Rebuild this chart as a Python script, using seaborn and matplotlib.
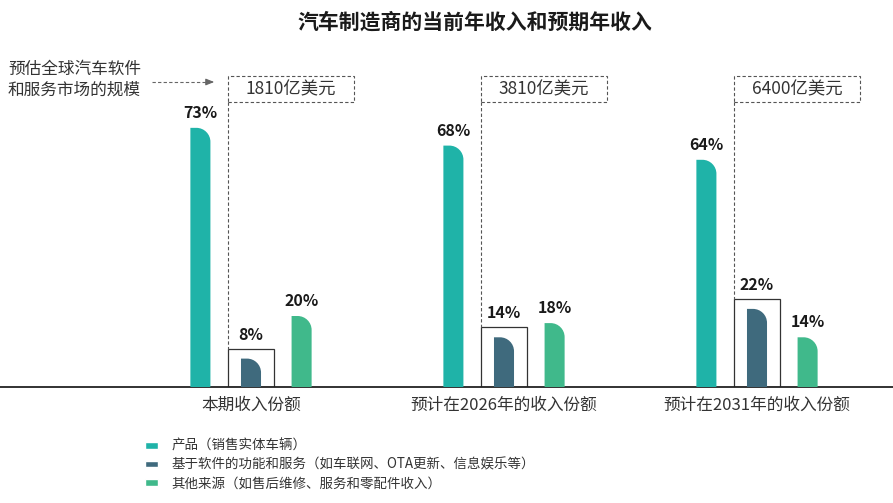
import numpy as np
import pandas as pd
import matplotlib
matplotlib.use("Agg")
import matplotlib.pyplot as plt
from matplotlib.path import Path
from matplotlib.patches import PathPatch, Rectangle
from matplotlib.lines import Line2D
import seaborn as sns

# ---------------- data ----------------
title = "汽车制造商的当前年收入和预期年收入"
categories = ["本期收入份额", "预计在2026年的收入份额", "预计在2031年的收入份额"]
series = ["产品（销售实体车辆）",
          "基于软件的功能和服务（如车联网、OTA更新、信息娱乐等）",
          "其他来源（如售后维修、服务和零配件收入）"]
product_share = [73, 68, 64]
software_share = [8, 14, 22]
other_share = [20, 18, 14]
market_size = ["1810亿美元", "3810亿美元", "6400亿美元"]
side_note = "预估全球汽车软件\n和服务市场的规模"
colors = ["#1fb3a8", "#3f6a7d", "#40b98b"]

rows = []
for vals, s in zip([product_share, software_share, other_share], series):
    for c, v in zip(categories, vals):
        rows.append({"cat": c, "series": s, "val": v})
df = pd.DataFrame(rows)

# ---------------- figure ----------------
sns.set_style("white")
plt.rcParams["font.family"] = ["Noto Sans CJK SC", "DejaVu Sans"]

W, H = 893, 503
fig = plt.figure(figsize=(W / 100, H / 100), dpi=100)
base_px = 387            # baseline from top
ax_h_px = 284
ax = fig.add_axes([0, (H - base_px) / H, 1, ax_h_px / H])

sns.barplot(data=df, x="cat", y="val", hue="series", palette=colors,
            width=0.6, gap=0.604, saturation=1, ax=ax, legend=True)

x_unit_px = 253.0
x0_px = 251.0
ax.set_xlim(-x0_px / x_unit_px, (W - x0_px) / x_unit_px)
ax.set_ylim(0, 80)
y_unit_px = ax_h_px / 80.0

def px2x(px):
    return px / x_unit_px

def px2y(px):
    return px / y_unit_px

def fig_y_to_data(ypx_top):
    return (base_px - ypx_top) / y_unit_px

rx, ry = px2x(14), px2y(14)
k = 0.5523

bars_info = []
for si, cont in enumerate(ax.containers):
    for ci, p in enumerate(cont):
        x0 = p.get_x(); w = p.get_width(); h = p.get_height()
        x1 = x0 + w
        verts = [(x0, 0), (x0, h), (x1 - rx, h),
                 (x1 - rx + k * rx, h), (x1, h - ry + k * ry), (x1, h - ry),
                 (x1, 0), (x0, 0)]
        codes = [Path.MOVETO, Path.LINETO, Path.LINETO,
                 Path.CURVE4, Path.CURVE4, Path.CURVE4,
                 Path.LINETO, Path.CLOSEPOLY]
        pp = PathPatch(Path(verts, codes), facecolor=p.get_facecolor(),
                       edgecolor="none", zorder=3)
        ax.add_patch(pp)
        p.set_visible(False)
        bars_info.append((si, ci, x0, x1, h))
        off = 24 if si == 1 else 15
        ax.text((x0 + x1) / 2, h + px2y(off), f"{int(h)}%", ha="center",
                va="center", fontsize=11.5, fontweight="bold", color="#1a1a1a")

# boxes around software bars and dashed market-size boxes
for si, ci, x0, x1, h in bars_info:
    if si != 1:
        continue
    bl = x0 - px2x(13)
    br = x1 + px2x(13)
    btop = h + px2y(10)
    ax.add_patch(Rectangle((bl, 0), br - bl, btop, fill=False,
                           edgecolor="#333333", linewidth=0.9, zorder=2))
    dtop = fig_y_to_data(76)
    dbot = fig_y_to_data(102)
    dr = bl + px2x(126)
    ax.add_patch(Rectangle((bl, dbot), dr - bl, dtop - dbot, fill=False,
                           edgecolor="#555555", linewidth=0.8,
                           linestyle=(0, (3, 2)), clip_on=False, zorder=2))
    ax.plot([bl, bl], [dbot, btop], color="#555555", linewidth=0.8,
            linestyle=(0, (3, 2)), clip_on=False, zorder=2)
    ax.text((bl + dr) / 2, fig_y_to_data(89), market_size[ci], ha="center",
            va="center", fontsize=12.5, color="#333333", clip_on=False)

# axes styling
for s in ["top", "right", "left"]:
    ax.spines[s].set_visible(False)
ax.spines["bottom"].set_color("#222222")
ax.spines["bottom"].set_linewidth(1.3)
ax.set_yticks([])
ax.set_xlabel("")
ax.set_ylabel("")
ax.tick_params(axis="x", length=0, pad=7, labelsize=12, labelcolor="#333333")

# legend
handles, labels = ax.get_legend_handles_labels()
ax.get_legend().remove()
fig.legend(handles, labels, loc="upper left",
           bbox_to_anchor=(145 / W, (H - 439) / H), frameon=False,
           fontsize=9.7, handlelength=0.95, handleheight=0.4,
           labelspacing=0.36, handletextpad=1.0, borderpad=0,
           borderaxespad=0, labelcolor="#333333")

# title and side note
fig.text(475 / W, (H - 22) / H, title, ha="center", va="center",
         fontsize=15, fontweight="bold", color="#1a1a1a")
fig.text(8 / W, (H - 80) / H, side_note, ha="left", va="center",
         fontsize=12, color="#333333", linespacing=1.25)

# dashed arrow
fig.add_artist(Line2D([152 / W, 208 / W], [(H - 82) / H, (H - 82) / H],
                      transform=fig.transFigure, color="#666666",
                      linewidth=0.8, linestyle=(0, (3, 2))))
ax.annotate("", xy=(217, H - 82), xytext=(207, H - 82),
            xycoords="figure pixels", textcoords="figure pixels",
            arrowprops=dict(arrowstyle="-|>,head_length=0.5,head_width=0.2",
                            color="#666666", linewidth=0.8))

fig.savefig("out.png", dpi=100)
